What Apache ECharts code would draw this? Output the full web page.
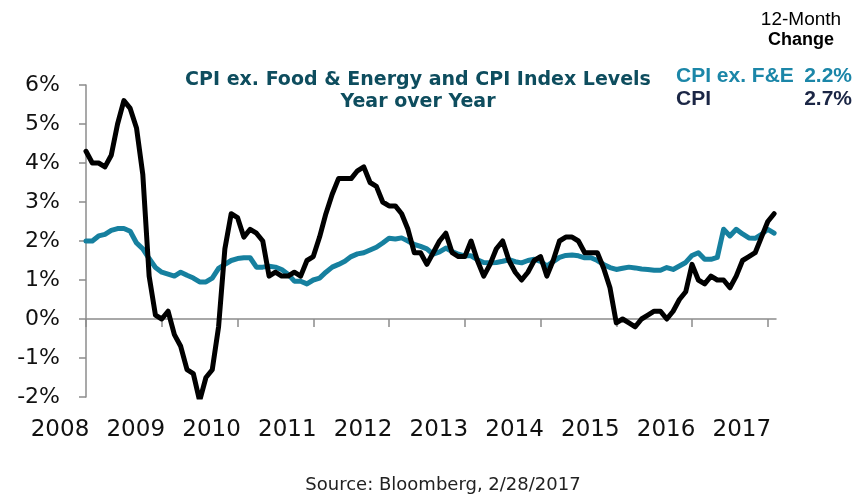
<!DOCTYPE html>
<html>
<head>
<meta charset="utf-8">
<script src="https://cdn.jsdelivr.net/npm/echarts@6/dist/echarts.min.js"></script>
<style>
  html, body { margin: 0; padding: 0; background: #fff; }
  #chart { width: 855px; height: 499px; }
</style>
</head>
<body>
<div id="chart"></div>
<script>
// months from Jan 2008 (index 0) to Feb 2017 (index 109)
var years = ['2008', '2009', '2010', '2011', '2012', '2013', '2014', '2015', '2016', '2017'];
var yearTicks = [0, 12, 24, 36, 48, 60, 72, 84, 96, 108];

// CPI ex. Food & Energy, % year over year
var coreCpi = [
  2.0, 2.0, 2.13, 2.17, 2.27, 2.32, 2.32, 2.25, 1.95, 1.8, 1.55, 1.32,
  1.2, 1.15, 1.1, 1.2, 1.12, 1.05, 0.95, 0.95, 1.05, 1.3, 1.4, 1.5,
  1.55, 1.57, 1.57, 1.33, 1.33, 1.35, 1.33, 1.27, 1.15, 0.97, 0.97, 0.9,
  1.0, 1.05, 1.2, 1.33, 1.4, 1.48, 1.6, 1.67, 1.7, 1.77, 1.84, 1.95,
  2.07, 2.05, 2.08, 2.0, 1.91, 1.86, 1.8, 1.66, 1.72, 1.82, 1.73, 1.66,
  1.62, 1.62, 1.52, 1.45, 1.44, 1.45, 1.48, 1.52, 1.47, 1.44, 1.5, 1.53,
  1.48, 1.36, 1.47, 1.58, 1.63, 1.64, 1.62, 1.57, 1.57, 1.5, 1.4, 1.32,
  1.27, 1.3, 1.33, 1.31, 1.28, 1.27, 1.25, 1.25, 1.32, 1.27, 1.36, 1.45,
  1.63, 1.7, 1.53, 1.53, 1.58, 2.3, 2.13, 2.3, 2.18, 2.08, 2.07, 2.17,
  2.3, 2.2
];

// CPI, % year over year
var cpi = [
  4.3, 4.0, 4.0, 3.9, 4.2, 5.0, 5.6, 5.4, 4.9, 3.7, 1.1, 0.1,
  0.0, 0.2, -0.4, -0.7, -1.3, -1.4, -2.1, -1.5, -1.3, -0.2, 1.8, 2.7,
  2.6, 2.1, 2.3, 2.2, 2.0, 1.1, 1.2, 1.1, 1.1, 1.2, 1.1, 1.5,
  1.6, 2.1, 2.7, 3.2, 3.6, 3.6, 3.6, 3.8, 3.9, 3.5, 3.4, 3.0,
  2.9, 2.9, 2.7, 2.3, 1.7, 1.7, 1.4, 1.7, 2.0, 2.2, 1.7, 1.6,
  1.6, 2.0, 1.5, 1.1, 1.4, 1.8, 2.0, 1.5, 1.2, 1.0, 1.2, 1.5,
  1.6, 1.1, 1.5, 2.0, 2.1, 2.1, 2.0, 1.7, 1.7, 1.7, 1.3, 0.8,
  -0.1, 0.0, -0.1, -0.2, 0.0, 0.1, 0.2, 0.2, 0.0, 0.2, 0.5, 0.7,
  1.4, 1.0, 0.9, 1.1, 1.0, 1.0, 0.8, 1.1, 1.5, 1.6, 1.7, 2.1,
  2.5, 2.7
];

function pairs(arr) {
  return arr.map(function (v, i) { return [i, v]; });
}

var chart = echarts.init(document.getElementById('chart'));
var axisGray = '#8c8c8c';

var option = {
  backgroundColor: '#fff',
  animation: false,
  grid: { left: 86, right: 79, top: 85, bottom: 102 },
  title: [{
    text: 'CPI ex. Food & Energy and CPI Index Levels\nYear over Year',
    left: 413,
    top: 64,
    textAlign: 'center',
    textStyle: {
      fontFamily: 'DejaVu Sans',
      fontSize: 19,
      fontWeight: 'bold',
      color: '#0e4d5e',
      lineHeight: 22
    }
  }],
  graphic: [
    { type: 'text', x: 801, y: 20, style: { text: '12-Month', align: 'center', verticalAlign: 'middle', font: '19px "Liberation Sans", Arial, sans-serif', fill: '#000' } },
    { type: 'text', x: 801, y: 40, style: { text: 'Change', align: 'center', verticalAlign: 'middle', font: 'bold 18px "Liberation Sans", Arial, sans-serif', fill: '#000' } },
    { type: 'text', x: 676, y: 76, style: { text: 'CPI ex. F&E', align: 'left', verticalAlign: 'middle', font: 'bold 21px "Liberation Sans", Arial, sans-serif', fill: '#1b86a8' } },
    { type: 'text', x: 852, y: 76, style: { text: '2.2%', align: 'right', verticalAlign: 'middle', font: 'bold 21px "Liberation Sans", Arial, sans-serif', fill: '#1b86a8' } },
    { type: 'text', x: 676, y: 99, style: { text: 'CPI', align: 'left', verticalAlign: 'middle', font: 'bold 21px "Liberation Sans", Arial, sans-serif', fill: '#1b2645' } },
    { type: 'text', x: 852, y: 99, style: { text: '2.7%', align: 'right', verticalAlign: 'middle', font: 'bold 21px "Liberation Sans", Arial, sans-serif', fill: '#1b2645' } },
    { type: 'text', x: 443, y: 485, style: { text: 'Source: Bloomberg, 2/28/2017', align: 'center', verticalAlign: 'middle', font: '18px "DejaVu Sans", sans-serif', fill: '#222' } }
  ],
  xAxis: [
    // line and ticks along 0%
    {
      type: 'value',
      min: 0,
      max: 109.3,
      axisLine: { onZero: true, lineStyle: { color: axisGray, width: 1.5 } },
      axisTick: { show: true, length: 8, customValues: yearTicks, lineStyle: { color: axisGray, width: 1.5 } },
      axisLabel: { show: false },
      splitLine: { show: false }
    },
    // year labels at the bottom
    {
      type: 'value',
      min: 0,
      max: 109.3,
      position: 'bottom',
      axisLine: { show: false, onZero: false },
      axisTick: { show: false },
      splitLine: { show: false },
      axisLabel: {
        customValues: yearTicks,
        margin: 22,
        padding: [0, 52, 0, 0],
        fontFamily: 'DejaVu Sans',
        fontSize: 23,
        color: '#111',
        formatter: function (v) {
          var k = Math.round(v / 12);
          return years[k] || '';
        }
      }
    }
  ],
  yAxis: {
    type: 'value',
    min: -2,
    max: 6,
    interval: 1,
    axisLine: { show: true, lineStyle: { color: axisGray, width: 1.5 } },
    axisTick: { show: true, length: 7, lineStyle: { color: axisGray, width: 1.5 } },
    splitLine: { show: false },
    axisLabel: {
      margin: 26,
      fontFamily: 'DejaVu Sans',
      fontSize: 22,
      color: '#111',
      formatter: function (v) { return v + '%'; }
    }
  },
  series: [
    {
      name: 'CPI ex. F&E',
      type: 'line',
      xAxisIndex: 0,
      data: pairs(coreCpi),
      showSymbol: false,
      symbol: 'none',
      lineStyle: { color: '#16809f', width: 5, join: 'round', cap: 'round' }
    },
    {
      name: 'CPI',
      type: 'line',
      xAxisIndex: 0,
      data: pairs(cpi),
      showSymbol: false,
      symbol: 'none',
      lineStyle: { color: '#000', width: 5, join: 'round', cap: 'round' }
    }
  ]
};

chart.setOption(option);
</script>
</body>
</html>
